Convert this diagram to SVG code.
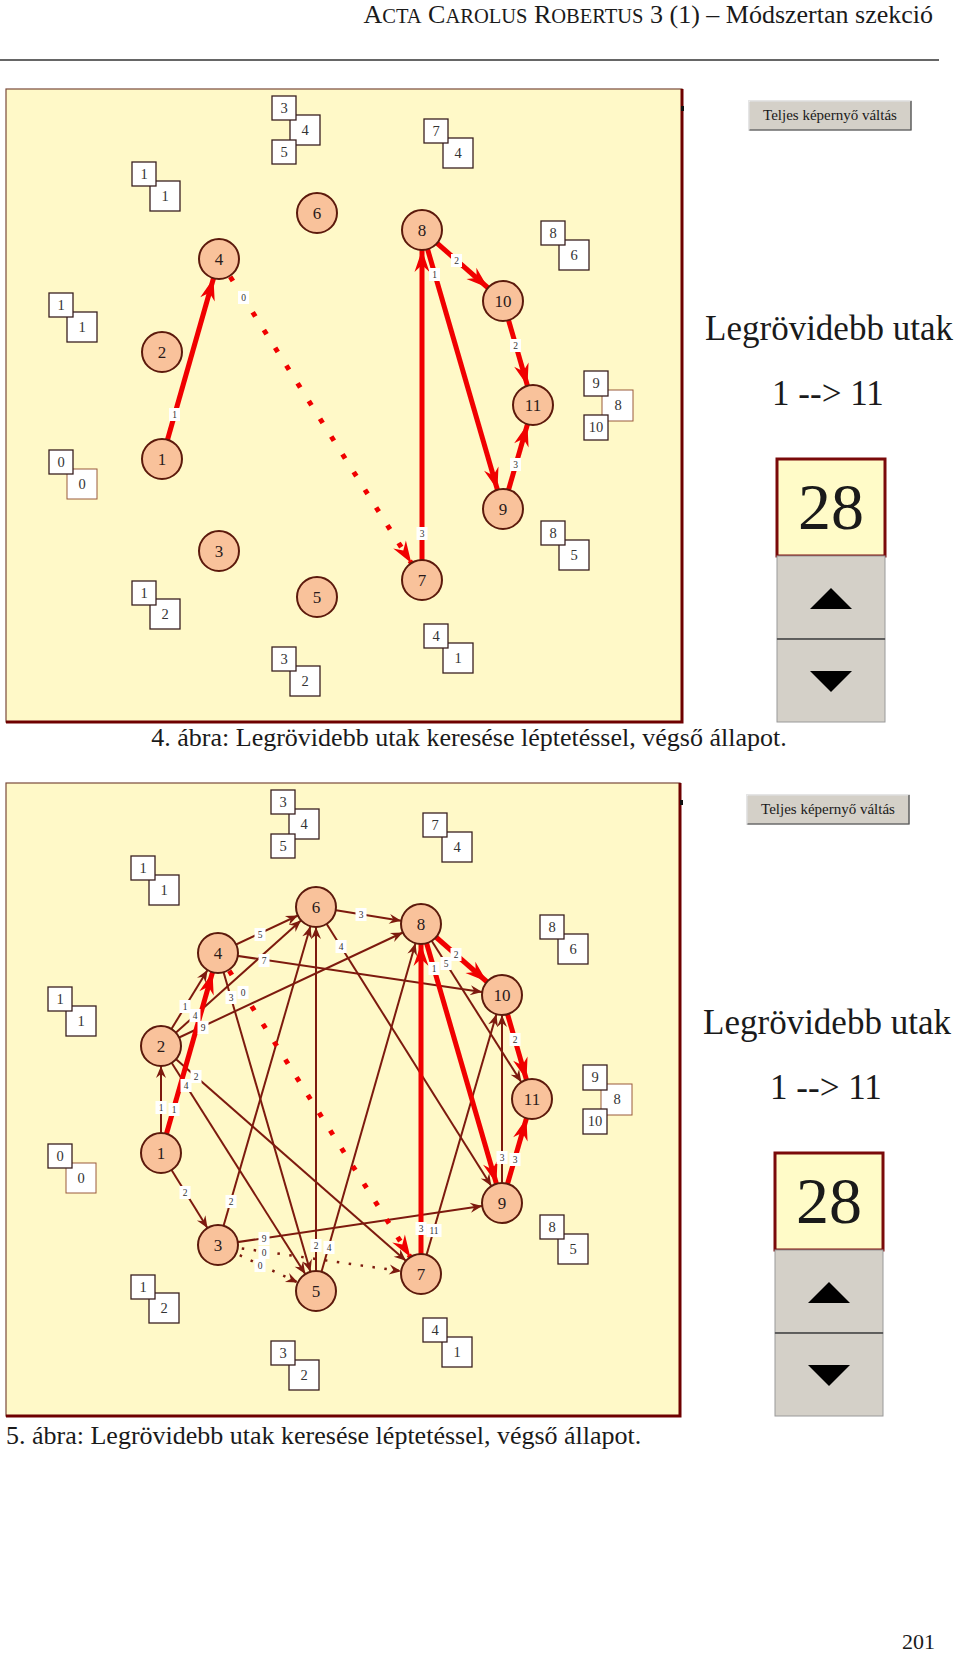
<svg xmlns="http://www.w3.org/2000/svg" width="960" height="1654" viewBox="0 0 960 1654">
<defs>
<style>
.page{font-family:"Liberation Serif","Times New Roman",serif;fill:#1a1a1a}
.panel{fill:#FFF9C8;stroke:#7a4a3a;stroke-width:1.2}
.pedge{stroke:#6e0000;stroke-width:3}
.nd circle{fill:#F9C29B;stroke:#5c1a0c;stroke-width:2}
.nd text{font-family:"Liberation Serif",serif;font-size:17px;text-anchor:middle;fill:#2a1a1a}
.e{stroke:#7d1a0e;stroke-width:2;fill:none;marker-end:url(#ad)}
.ed{stroke:#7d1a0e;stroke-width:2.5;stroke-dasharray:2.5 9.5;fill:none;marker-end:url(#ad)}
.r{stroke:#f00000;stroke-width:5;fill:none;marker-end:url(#ar)}
.rd{stroke:#f00000;stroke-width:5;stroke-dasharray:5 16;fill:none;marker-end:url(#ar)}
.lb rect{fill:#ffffff}
.lb text{font-family:"Liberation Serif",serif;font-size:9.5px;text-anchor:middle;fill:#333}
.bx rect{fill:#ffffff;stroke:#3a2020;stroke-width:1.3}
.bx rect.br{stroke:#9a5a3a;stroke-width:1}
.bx text{font-family:"Liberation Serif",serif;font-size:14.5px;text-anchor:middle;fill:#333}
.btn{fill:#D4D0C8;stroke:#9a9a9a;stroke-width:1}
.big{font-family:"Liberation Serif",serif;text-anchor:middle;fill:#1a1a1a}
</style>
<marker id="ar" markerUnits="userSpaceOnUse" orient="auto" refX="20" refY="0" markerWidth="30" markerHeight="20" viewBox="-25 -10 30 20" overflow="visible">
<path d="M0,0 L-22,-7.5 L-15,0 L-22,7.5 Z" fill="#f00000"/>
</marker>
<marker id="ad" markerUnits="userSpaceOnUse" orient="auto" refX="20" refY="0" markerWidth="30" markerHeight="20" viewBox="-25 -10 30 20" overflow="visible">
<path d="M0,0 L-12,-5 L-8,0 L-12,5 Z" fill="#7d1a0e"/>
</marker>
</defs>
<rect width="960" height="1654" fill="#ffffff"/>

<!-- header -->
<g id="header" class="page">
<text x="933" y="23" text-anchor="end" font-size="26"><tspan>A</tspan><tspan font-size="20.5">CTA</tspan><tspan> C</tspan><tspan font-size="20.5">AROLUS</tspan><tspan> R</tspan><tspan font-size="20.5">OBERTUS</tspan><tspan> 3 (1) – Módszertan szekció</tspan></text>
<line x1="0" y1="60" x2="939" y2="60" stroke="#333" stroke-width="1.5"/>
</g>

<!-- ===== Panel 1 ===== -->
<g id="panel1-frame">
<rect class="panel" x="6" y="89" width="676" height="633"/>
<path class="pedge" d="M682,89 V722 H6" fill="none"/>
<rect x="681" y="106" width="3" height="5" fill="#111"/>
</g>

<g id="p1-boxes">
<g class="bx" id="p1-b345"><rect x="290" y="115" width="30" height="30"/><text x="305" y="135">4</text><rect x="272" y="96" width="24" height="24"/><text x="284" y="113">3</text><rect x="272" y="140" width="24" height="24"/><text x="284" y="157">5</text></g>
<g class="bx" id="p1-b11a"><rect x="150" y="181" width="30" height="30"/><text x="165" y="201">1</text><rect x="132" y="162" width="24" height="24"/><text x="144" y="179">1</text></g>
<g class="bx" id="p1-b11b"><rect x="67" y="312" width="30" height="30"/><text x="82" y="332">1</text><rect x="49" y="293" width="24" height="24"/><text x="61" y="310">1</text></g>
<g class="bx" id="p1-b00"><rect class="br" x="67" y="469" width="30" height="30"/><text x="82" y="489">0</text><rect x="49" y="450" width="24" height="24"/><text x="61" y="467">0</text></g>
<g class="bx" id="p1-b12"><rect x="150" y="599" width="30" height="30"/><text x="165" y="619">2</text><rect x="132" y="581" width="24" height="24"/><text x="144" y="598">1</text></g>
<g class="bx" id="p1-b32"><rect x="290" y="666" width="30" height="30"/><text x="305" y="686">2</text><rect x="272" y="647" width="24" height="24"/><text x="284" y="664">3</text></g>
<g class="bx" id="p1-b41"><rect x="443" y="643" width="30" height="30"/><text x="458" y="663">1</text><rect x="424" y="624" width="24" height="24"/><text x="436" y="641">4</text></g>
<g class="bx" id="p1-b74"><rect x="443" y="138" width="30" height="30"/><text x="458" y="158">4</text><rect x="424" y="119" width="24" height="24"/><text x="436" y="136">7</text></g>
<g class="bx" id="p1-b86"><rect x="559" y="240" width="30" height="30"/><text x="574" y="260">6</text><rect x="541" y="221" width="24" height="24"/><text x="553" y="238">8</text></g>
<g class="bx" id="p1-b9810"><rect class="br" x="602" y="390" width="31" height="31"/><text x="618" y="410">8</text><rect x="584" y="371" width="24" height="25"/><text x="596" y="388">9</text><rect x="584" y="415" width="24" height="25"/><text x="596" y="432">10</text></g>
<g class="bx" id="p1-b85"><rect x="559" y="540" width="30" height="30"/><text x="574" y="560">5</text><rect x="541" y="521" width="24" height="24"/><text x="553" y="538">8</text></g>
</g>

<g id="p1-connectors">
<line class="r" x1="162" y1="459" x2="219" y2="259"/>
<line class="rd" x1="219" y1="259" x2="422" y2="580"/>
<line class="r" x1="422" y1="580" x2="422" y2="230"/>
<line class="r" x1="422" y1="230" x2="503" y2="509"/>
<line class="r" x1="422" y1="230" x2="503" y2="301"/>
<line class="r" x1="503" y1="301" x2="533" y2="405"/>
<line class="r" x1="503" y1="509" x2="533" y2="405"/>
<g class="lb"><rect x="169" y="408" width="11" height="13"/><text x="174.5" y="418">1</text></g>
<g class="lb"><rect x="238" y="291" width="11" height="13"/><text x="243.5" y="301">0</text></g>
<g class="lb"><rect x="416.5" y="527" width="11" height="13"/><text x="422" y="537">3</text></g>
<g class="lb"><rect x="429" y="268" width="11" height="13"/><text x="434.5" y="278">1</text></g>
<g class="lb"><rect x="451" y="254" width="11" height="13"/><text x="456.5" y="264">2</text></g>
<g class="lb"><rect x="510" y="339" width="11" height="13"/><text x="515.5" y="349">2</text></g>
<g class="lb"><rect x="510" y="458" width="11" height="13"/><text x="515.5" y="468">3</text></g>
</g>

<g id="p1-nodes">
<g id="p1-n1" class="nd"><circle cx="162" cy="459" r="20"/><text x="162" y="465">1</text></g>
<g id="p1-n2" class="nd"><circle cx="162" cy="352" r="20"/><text x="162" y="358">2</text></g>
<g id="p1-n3" class="nd"><circle cx="219" cy="551" r="20"/><text x="219" y="557">3</text></g>
<g id="p1-n4" class="nd"><circle cx="219" cy="259" r="20"/><text x="219" y="265">4</text></g>
<g id="p1-n5" class="nd"><circle cx="317" cy="597" r="20"/><text x="317" y="603">5</text></g>
<g id="p1-n6" class="nd"><circle cx="317" cy="213" r="20"/><text x="317" y="219">6</text></g>
<g id="p1-n7" class="nd"><circle cx="422" cy="580" r="20"/><text x="422" y="586">7</text></g>
<g id="p1-n8" class="nd"><circle cx="422" cy="230" r="20"/><text x="422" y="236">8</text></g>
<g id="p1-n9" class="nd"><circle cx="503" cy="509" r="20"/><text x="503" y="515">9</text></g>
<g id="p1-n10" class="nd"><circle cx="503" cy="301" r="20"/><text x="503" y="307">10</text></g>
<g id="p1-n11" class="nd"><circle cx="533" cy="405" r="20"/><text x="533" y="411">11</text></g>
</g>

<g id="p1-controls">
<rect class="btn" x="749" y="101" width="162" height="29"/>
<path d="M749,130 V101 H911" fill="none" stroke="#ffffff" stroke-width="1"/>
<path d="M749.5,130 H911 V101" fill="none" stroke="#555" stroke-width="1.2"/>
<text class="big" x="830" y="120" font-size="15">Teljes képernyő váltás</text>
<text class="big" x="829" y="340" font-size="35">Legrövidebb utak</text>
<text class="big" x="828" y="405" font-size="35">1 --&gt; 11</text>
<rect x="777" y="459" width="108" height="97" fill="#FFFBC8" stroke="#7a0a0a" stroke-width="3"/>
<text class="big" x="831" y="529" font-size="66">28</text>
<rect class="btn" x="777" y="556" width="108" height="83"/>
<rect class="btn" x="777" y="639" width="108" height="83"/>
<line x1="777" y1="639" x2="885" y2="639" stroke="#444" stroke-width="1.5"/>
<polygon points="810,609 852,609 831,588" fill="#000"/>
<polygon points="810,671 852,671 831,692" fill="#000"/>
</g>

<text id="caption1" class="page" x="469" y="746" text-anchor="middle" font-size="26">4. ábra: Legrövidebb utak keresése léptetéssel, végső állapot.</text>

<!-- ===== Panel 2 ===== -->
<g id="panel2-frame">
<rect class="panel" x="6" y="783" width="674" height="633"/>
<path class="pedge" d="M680,783 V1416 H6" fill="none"/>
<rect x="680" y="800" width="3" height="5" fill="#111"/>
</g>

<g transform="translate(-1,694)">
<g id="p2-boxes">
<g class="bx" id="p2-b345"><rect x="290" y="115" width="30" height="30"/><text x="305" y="135">4</text><rect x="272" y="96" width="24" height="24"/><text x="284" y="113">3</text><rect x="272" y="140" width="24" height="24"/><text x="284" y="157">5</text></g>
<g class="bx" id="p2-b11a"><rect x="150" y="181" width="30" height="30"/><text x="165" y="201">1</text><rect x="132" y="162" width="24" height="24"/><text x="144" y="179">1</text></g>
<g class="bx" id="p2-b11b"><rect x="67" y="312" width="30" height="30"/><text x="82" y="332">1</text><rect x="49" y="293" width="24" height="24"/><text x="61" y="310">1</text></g>
<g class="bx" id="p2-b00"><rect class="br" x="67" y="469" width="30" height="30"/><text x="82" y="489">0</text><rect x="49" y="450" width="24" height="24"/><text x="61" y="467">0</text></g>
<g class="bx" id="p2-b12"><rect x="150" y="599" width="30" height="30"/><text x="165" y="619">2</text><rect x="132" y="581" width="24" height="24"/><text x="144" y="598">1</text></g>
<g class="bx" id="p2-b32"><rect x="290" y="666" width="30" height="30"/><text x="305" y="686">2</text><rect x="272" y="647" width="24" height="24"/><text x="284" y="664">3</text></g>
<g class="bx" id="p2-b41"><rect x="443" y="643" width="30" height="30"/><text x="458" y="663">1</text><rect x="424" y="624" width="24" height="24"/><text x="436" y="641">4</text></g>
<g class="bx" id="p2-b74"><rect x="443" y="138" width="30" height="30"/><text x="458" y="158">4</text><rect x="424" y="119" width="24" height="24"/><text x="436" y="136">7</text></g>
<g class="bx" id="p2-b86"><rect x="559" y="240" width="30" height="30"/><text x="574" y="260">6</text><rect x="541" y="221" width="24" height="24"/><text x="553" y="238">8</text></g>
<g class="bx" id="p2-b9810"><rect class="br" x="602" y="390" width="31" height="31"/><text x="618" y="410">8</text><rect x="584" y="371" width="24" height="25"/><text x="596" y="388">9</text><rect x="584" y="415" width="24" height="25"/><text x="596" y="432">10</text></g>
<g class="bx" id="p2-b85"><rect x="559" y="540" width="30" height="30"/><text x="574" y="560">5</text><rect x="541" y="521" width="24" height="24"/><text x="553" y="538">8</text></g>
</g>

<g id="p2-connectors">
<line class="e" x1="162" y1="459" x2="162" y2="352"/>
<line class="e" x1="162" y1="459" x2="219" y2="551"/>
<line class="e" x1="162" y1="352" x2="219" y2="259"/>
<line class="e" x1="162" y1="352" x2="317" y2="213"/>
<line class="e" x1="162" y1="352" x2="422" y2="230"/>
<line class="e" x1="162" y1="352" x2="422" y2="580"/>
<line class="e" x1="162" y1="352" x2="317" y2="597"/>
<line class="e" x1="219" y1="551" x2="317" y2="213"/>
<line class="e" x1="219" y1="551" x2="503" y2="509"/>
<line class="e" x1="219" y1="259" x2="317" y2="213"/>
<line class="e" x1="219" y1="259" x2="503" y2="301"/>
<line class="e" x1="219" y1="259" x2="317" y2="597"/>
<line class="e" x1="317" y1="597" x2="317" y2="213"/>
<line class="e" x1="317" y1="597" x2="422" y2="230"/>
<line class="e" x1="317" y1="213" x2="422" y2="230"/>
<line class="e" x1="317" y1="213" x2="503" y2="509"/>
<line class="e" x1="422" y1="580" x2="503" y2="301"/>
<line class="e" x1="422" y1="230" x2="533" y2="405"/>
<line class="e" x1="503" y1="509" x2="503" y2="301"/>
<line class="ed" x1="219" y1="551" x2="422" y2="580"/>
<line class="ed" x1="219" y1="551" x2="317" y2="597"/>
<line class="r" x1="162" y1="459" x2="219" y2="259"/>
<line class="rd" x1="219" y1="259" x2="422" y2="580"/>
<line class="r" x1="422" y1="580" x2="422" y2="230"/>
<line class="r" x1="422" y1="230" x2="503" y2="509"/>
<line class="r" x1="422" y1="230" x2="503" y2="301"/>
<line class="r" x1="503" y1="301" x2="533" y2="405"/>
<line class="r" x1="503" y1="509" x2="533" y2="405"/>
<g class="lb"><rect x="156.5" y="407" width="11" height="13"/><text x="162" y="417">1</text></g>
<g class="lb"><rect x="180.5" y="492" width="11" height="13"/><text x="186" y="502">2</text></g>
<g class="lb"><rect x="180.5" y="306" width="11" height="13"/><text x="186" y="316">1</text></g>
<g class="lb"><rect x="190.5" y="315" width="11" height="13"/><text x="196" y="325">4</text></g>
<g class="lb"><rect x="198.5" y="327" width="11" height="13"/><text x="204" y="337">9</text></g>
<g class="lb"><rect x="191.5" y="376" width="11" height="13"/><text x="197" y="386">2</text></g>
<g class="lb"><rect x="181.5" y="385" width="11" height="13"/><text x="187" y="395">4</text></g>
<g class="lb"><rect x="226.5" y="501" width="11" height="13"/><text x="232" y="511">2</text></g>
<g class="lb"><rect x="259.5" y="538" width="11" height="13"/><text x="265" y="548">9</text></g>
<g class="lb"><rect x="259.5" y="552" width="11" height="13"/><text x="265" y="562">0</text></g>
<g class="lb"><rect x="255.5" y="565" width="11" height="13"/><text x="261" y="575">0</text></g>
<g class="lb"><rect x="255.5" y="234" width="11" height="13"/><text x="261" y="244">5</text></g>
<g class="lb"><rect x="259.5" y="260" width="11" height="13"/><text x="265" y="270">7</text></g>
<g class="lb"><rect x="226.5" y="297" width="11" height="13"/><text x="232" y="307">3</text></g>
<g class="lb"><rect x="311.5" y="545" width="11" height="13"/><text x="317" y="555">2</text></g>
<g class="lb"><rect x="324.5" y="547" width="11" height="13"/><text x="330" y="557">4</text></g>
<g class="lb"><rect x="356.5" y="214" width="11" height="13"/><text x="362" y="224">3</text></g>
<g class="lb"><rect x="336.5" y="246" width="11" height="13"/><text x="342" y="256">4</text></g>
<g class="lb"><rect x="427.5" y="530" width="15" height="13"/><text x="435" y="540">11</text></g>
<g class="lb"><rect x="441.5" y="263" width="11" height="13"/><text x="447" y="273">5</text></g>
<g class="lb"><rect x="497.5" y="457" width="11" height="13"/><text x="503" y="467">3</text></g>
<g class="lb"><rect x="169.5" y="409" width="11" height="13"/><text x="175" y="419">1</text></g>
<g class="lb"><rect x="238.5" y="292" width="11" height="13"/><text x="244" y="302">0</text></g>
<g class="lb"><rect x="416.5" y="528" width="11" height="13"/><text x="422" y="538">3</text></g>
<g class="lb"><rect x="429.5" y="268" width="11" height="13"/><text x="435" y="278">1</text></g>
<g class="lb"><rect x="451.5" y="254" width="11" height="13"/><text x="457" y="264">2</text></g>
<g class="lb"><rect x="510.5" y="339" width="11" height="13"/><text x="516" y="349">2</text></g>
<g class="lb"><rect x="510.5" y="459" width="11" height="13"/><text x="516" y="469">3</text></g>
</g>

<g id="p2-nodes">
<g id="p2-n1" class="nd"><circle cx="162" cy="459" r="20"/><text x="162" y="465">1</text></g>
<g id="p2-n2" class="nd"><circle cx="162" cy="352" r="20"/><text x="162" y="358">2</text></g>
<g id="p2-n3" class="nd"><circle cx="219" cy="551" r="20"/><text x="219" y="557">3</text></g>
<g id="p2-n4" class="nd"><circle cx="219" cy="259" r="20"/><text x="219" y="265">4</text></g>
<g id="p2-n5" class="nd"><circle cx="317" cy="597" r="20"/><text x="317" y="603">5</text></g>
<g id="p2-n6" class="nd"><circle cx="317" cy="213" r="20"/><text x="317" y="219">6</text></g>
<g id="p2-n7" class="nd"><circle cx="422" cy="580" r="20"/><text x="422" y="586">7</text></g>
<g id="p2-n8" class="nd"><circle cx="422" cy="230" r="20"/><text x="422" y="236">8</text></g>
<g id="p2-n9" class="nd"><circle cx="503" cy="509" r="20"/><text x="503" y="515">9</text></g>
<g id="p2-n10" class="nd"><circle cx="503" cy="301" r="20"/><text x="503" y="307">10</text></g>
<g id="p2-n11" class="nd"><circle cx="533" cy="405" r="20"/><text x="533" y="411">11</text></g>
</g>
</g>

<g id="p2-controls" transform="translate(-2,694)">
<rect class="btn" x="749" y="101" width="162" height="29"/>
<path d="M749,130 V101 H911" fill="none" stroke="#ffffff" stroke-width="1"/>
<path d="M749.5,130 H911 V101" fill="none" stroke="#555" stroke-width="1.2"/>
<text class="big" x="830" y="120" font-size="15">Teljes képernyő váltás</text>
<text class="big" x="829" y="340" font-size="35">Legrövidebb utak</text>
<text class="big" x="828" y="405" font-size="35">1 --&gt; 11</text>
<rect x="777" y="459" width="108" height="97" fill="#FFFBC8" stroke="#7a0a0a" stroke-width="3"/>
<text class="big" x="831" y="529" font-size="66">28</text>
<rect class="btn" x="777" y="556" width="108" height="83"/>
<rect class="btn" x="777" y="639" width="108" height="83"/>
<line x1="777" y1="639" x2="885" y2="639" stroke="#444" stroke-width="1.5"/>
<polygon points="810,609 852,609 831,588" fill="#000"/>
<polygon points="810,671 852,671 831,692" fill="#000"/>
</g>

<text id="caption2" class="page" x="6" y="1444" font-size="26">5. ábra: Legrövidebb utak keresése léptetéssel, végső állapot.</text>

<text id="pagenum" class="page" x="935" y="1649" text-anchor="end" font-size="22">201</text>
</svg>
